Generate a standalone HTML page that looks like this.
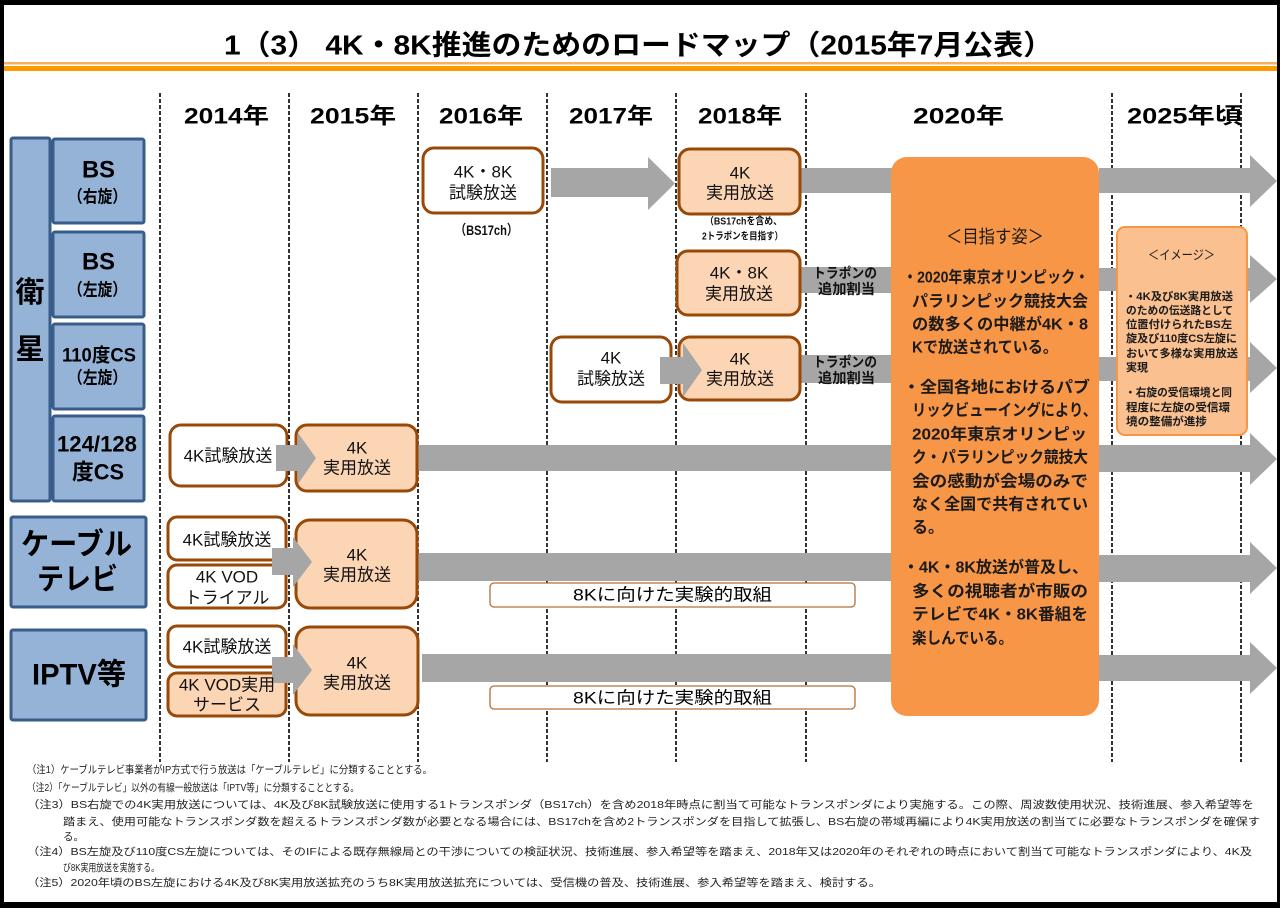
<!DOCTYPE html>
<html><head><meta charset="utf-8"><style>
html,body{margin:0;padding:0;background:#000;}
svg{display:block;}
text{font-family:"Liberation Sans","Noto Sans CJK JP",sans-serif;}
</style></head><body>
<svg width="1280" height="908" viewBox="0 0 1280 908" xmlns="http://www.w3.org/2000/svg">
<rect x="0" y="0" width="1280" height="908" fill="#000"/>
<rect x="4" y="5" width="1273" height="897" fill="#fff"/>

<!-- title -->
<text x="224" y="45" font-size="28" font-weight="bold" dominant-baseline="central" textLength="829" lengthAdjust="spacingAndGlyphs" fill="#000">1（3） 4K・8K推進のためのロードマップ（2015年7月公表）</text>
<rect x="4" y="62" width="1273" height="2.5" fill="#f8b060"/>
<rect x="4" y="66" width="1273" height="5" fill="#fd9a00"/>

<!-- dashed lines -->
<g stroke="#000" stroke-width="1.6" stroke-dasharray="4,2">
<line x1="160" y1="93" x2="160" y2="762"/>
<line x1="289" y1="93" x2="289" y2="762"/>
<line x1="418" y1="93" x2="418" y2="762"/>
<line x1="547" y1="93" x2="547" y2="762"/>
<line x1="676" y1="93" x2="676" y2="762"/>
<line x1="806" y1="93" x2="806" y2="762"/>
<line x1="1112" y1="93" x2="1112" y2="762"/>
<line x1="1241" y1="93" x2="1241" y2="762"/>
</g>

<!-- years -->
<g font-size="22" font-weight="bold" fill="#000">
<text x="184" y="116" dominant-baseline="central" textLength="85" lengthAdjust="spacingAndGlyphs">2014年</text>
<text x="310" y="116" dominant-baseline="central" textLength="86" lengthAdjust="spacingAndGlyphs">2015年</text>
<text x="439" y="116" dominant-baseline="central" textLength="84" lengthAdjust="spacingAndGlyphs">2016年</text>
<text x="569" y="116" dominant-baseline="central" textLength="84" lengthAdjust="spacingAndGlyphs">2017年</text>
<text x="698" y="116" dominant-baseline="central" textLength="84" lengthAdjust="spacingAndGlyphs">2018年</text>
<text x="913" y="116" dominant-baseline="central" textLength="91" lengthAdjust="spacingAndGlyphs">2020年</text>
<text x="1127" y="116" dominant-baseline="central" textLength="115" lengthAdjust="spacingAndGlyphs">2025年頃</text>
</g>

<!-- left labels -->
<g fill="#95b3d7" stroke="#385d8a" stroke-width="3">
<rect x="11" y="138" width="39" height="363" rx="2"/>
<rect x="53" y="139" width="91" height="84" rx="2"/>
<rect x="53" y="232" width="91" height="85" rx="2"/>
<rect x="53" y="324" width="91" height="85" rx="2"/>
<rect x="53" y="416" width="91" height="85" rx="2"/>
<rect x="11" y="517" width="135" height="90" rx="2"/>
<rect x="11" y="630" width="135" height="90" rx="2"/>
</g>
<g font-weight="bold" fill="#000" dominant-baseline="central">
<text x="30" y="293" font-size="29" text-anchor="middle" dominant-baseline="central">衛</text>
<text x="30" y="350" font-size="29" text-anchor="middle" dominant-baseline="central">星</text>
<text x="82" y="170" font-size="24" dominant-baseline="central" textLength="33" lengthAdjust="spacingAndGlyphs">BS</text>
<text x="68" y="197" font-size="17" dominant-baseline="central" textLength="59" lengthAdjust="spacingAndGlyphs">（右旋）</text>
<text x="82" y="262" font-size="24" dominant-baseline="central" textLength="33" lengthAdjust="spacingAndGlyphs">BS</text>
<text x="68" y="290" font-size="17" dominant-baseline="central" textLength="59" lengthAdjust="spacingAndGlyphs">（左旋）</text>
<text x="62" y="356" font-size="19" dominant-baseline="central" textLength="74" lengthAdjust="spacingAndGlyphs">110度CS</text>
<text x="68" y="378" font-size="17" dominant-baseline="central" textLength="59" lengthAdjust="spacingAndGlyphs">（左旋）</text>
<text x="57" y="444" font-size="22" dominant-baseline="central" textLength="80" lengthAdjust="spacingAndGlyphs">124/128</text>
<text x="72" y="472" font-size="22" dominant-baseline="central" textLength="52" lengthAdjust="spacingAndGlyphs">度CS</text>
<text x="21" y="545" font-size="30" dominant-baseline="central" textLength="111" lengthAdjust="spacingAndGlyphs">ケーブル</text>
<text x="37" y="580" font-size="30" dominant-baseline="central" textLength="81" lengthAdjust="spacingAndGlyphs">テレビ</text>
<text x="32" y="675" font-size="30" dominant-baseline="central" textLength="94" lengthAdjust="spacingAndGlyphs">IPTV等</text>
</g>

<!-- long gray arrows (under boxes) -->
<g fill="#a6a6a6">
<polygon points="551,168 648,168 648,157 675,183.5 648,210 648,197 551,197"/>
<rect x="800" y="168" width="95" height="25"/>
<polygon points="1099,168 1250,168 1250,155 1277,181 1250,207 1250,193 1099,193"/>
<rect x="800" y="267" width="95" height="26"/>
<polygon points="1099,268 1250,268 1250,255 1277,279 1250,303 1250,291 1099,291"/>
<rect x="800" y="355" width="95" height="28"/>
<polygon points="1099,357 1250,357 1250,342 1277,368 1250,393 1250,381 1099,381"/>
<rect x="417" y="445" width="478" height="26"/>
<polygon points="1099,445 1250,445 1250,433 1277,459 1250,485 1250,472 1099,472"/>
<rect x="417" y="553" width="478" height="28"/>
<polygon points="1099,555 1250,555 1250,542 1277,568 1250,594 1250,582 1099,582"/>
<rect x="422" y="654" width="473" height="28"/>
<polygon points="1099,655 1250,655 1250,642 1277,668 1250,694 1250,681 1099,681"/>
</g>

<!-- 8K boxes -->
<g fill="#fff" stroke="#b0703a" stroke-width="1.3">
<rect x="490" y="583" width="365" height="24" rx="4"/>
<rect x="490" y="686" width="365" height="23" rx="4"/>
</g>
<g font-size="17" fill="#000">
<text x="573" y="595" dominant-baseline="central" textLength="199" lengthAdjust="spacingAndGlyphs">8Kに向けた実験的取組</text>
<text x="573" y="698" dominant-baseline="central" textLength="199" lengthAdjust="spacingAndGlyphs">8Kに向けた実験的取組</text>
</g>

<!-- white boxes -->
<g fill="#fff" stroke="#984807" stroke-width="3">
<rect x="423" y="148" width="120" height="65" rx="11"/>
<rect x="551" y="337" width="120" height="65" rx="11"/>
<rect x="170" y="425" width="117" height="61" rx="11"/>
<rect x="168" y="517" width="118" height="43" rx="9"/>
<rect x="168" y="565" width="118" height="43" rx="9"/>
<rect x="168" y="626" width="118" height="41" rx="9"/>
</g>
<!-- peach boxes -->
<g fill="#fcd5b5" stroke="#984807" stroke-width="3">
<rect x="679" y="149" width="121" height="65" rx="11"/>
<rect x="677" y="251" width="123" height="64" rx="11"/>
<rect x="679" y="337" width="121" height="63" rx="11"/>
<rect x="296" y="425" width="121" height="66" rx="11"/>
<rect x="296" y="520" width="121" height="88" rx="14"/>
<rect x="168" y="673" width="118" height="43" rx="9"/>
<rect x="296" y="627" width="122" height="88" rx="14"/>
</g>

<!-- short arrows over boxes -->
<g fill="#a6a6a6">
<polygon points="660,357 683,357 683,343 702,370 683,397 683,384 660,384"/>
<polygon points="276,445 298,445 298,433 316,458 298,484 298,471 276,471"/>
<polygon points="272,548 293,548 293,537 312,562 293,587 293,575 272,575"/>
<polygon points="272,657 293,657 293,644 312,670 293,695 293,683 272,683"/>
</g>

<!-- box texts -->
<g font-size="17" fill="#111" text-anchor="middle">
<text x="483" y="172" dominant-baseline="central">4K・8K</text>
<text x="483" y="193" dominant-baseline="central">試験放送</text>
<text x="611" y="358" dominant-baseline="central">4K</text>
<text x="611" y="379" dominant-baseline="central">試験放送</text>
<text x="228" y="456" dominant-baseline="central">4K試験放送</text>
<text x="227" y="540" dominant-baseline="central">4K試験放送</text>
<text x="227" y="577" dominant-baseline="central">4K VOD</text>
<text x="227" y="598" dominant-baseline="central">トライアル</text>
<text x="227" y="647" dominant-baseline="central">4K試験放送</text>
<text x="740" y="173" dominant-baseline="central">4K</text>
<text x="740" y="193" dominant-baseline="central">実用放送</text>
<text x="739" y="273" dominant-baseline="central">4K・8K</text>
<text x="739" y="294" dominant-baseline="central">実用放送</text>
<text x="740" y="359" dominant-baseline="central">4K</text>
<text x="740" y="379" dominant-baseline="central">実用放送</text>
<text x="357" y="448" dominant-baseline="central">4K</text>
<text x="357" y="468" dominant-baseline="central">実用放送</text>
<text x="357" y="555" dominant-baseline="central">4K</text>
<text x="357" y="575" dominant-baseline="central">実用放送</text>
<text x="227" y="685" dominant-baseline="central">4K VOD実用</text>
<text x="227" y="705" dominant-baseline="central">サービス</text>
<text x="357" y="663" dominant-baseline="central">4K</text>
<text x="357" y="683" dominant-baseline="central">実用放送</text>
</g>

<!-- small labels -->
<g font-weight="bold" fill="#111">
<text x="455" y="230" font-size="14" dominant-baseline="central" textLength="63" lengthAdjust="spacingAndGlyphs">（BS17ch）</text>
<text x="705" y="222" font-size="10" dominant-baseline="central" textLength="77" lengthAdjust="spacingAndGlyphs">（BS17chを含め、</text>
<text x="702" y="237" font-size="10" dominant-baseline="central" textLength="81" lengthAdjust="spacingAndGlyphs">2トラポンを目指す）</text>
<text x="813" y="273" font-size="14" dominant-baseline="central" textLength="64" lengthAdjust="spacingAndGlyphs">トラポンの</text>
<text x="818" y="289" font-size="14" dominant-baseline="central" textLength="57" lengthAdjust="spacingAndGlyphs">追加割当</text>
<text x="813" y="362" font-size="14" dominant-baseline="central" textLength="64" lengthAdjust="spacingAndGlyphs">トラポンの</text>
<text x="818" y="378" font-size="14" dominant-baseline="central" textLength="57" lengthAdjust="spacingAndGlyphs">追加割当</text>
</g>

<!-- orange main box -->
<rect x="891" y="157" width="208" height="559" rx="16" fill="#f79646"/>
<g font-weight="bold" fill="#1a1a1a" font-size="16">
<text x="946" y="237" font-size="18" font-weight="normal" dominant-baseline="central" textLength="98" lengthAdjust="spacingAndGlyphs">＜目指す姿＞</text>
<text x="903" y="278" dominant-baseline="central" textLength="186" lengthAdjust="spacingAndGlyphs">・2020年東京オリンピック・</text>
<text x="912" y="302" dominant-baseline="central" textLength="176" lengthAdjust="spacingAndGlyphs">パラリンピック競技大会</text>
<text x="912" y="325" dominant-baseline="central" textLength="176" lengthAdjust="spacingAndGlyphs">の数多くの中継が4K・8</text>
<text x="912" y="348" dominant-baseline="central" textLength="146" lengthAdjust="spacingAndGlyphs">Kで放送されている。</text>
<text x="903" y="388" dominant-baseline="central" textLength="187" lengthAdjust="spacingAndGlyphs">・全国各地におけるパブ</text>
<text x="912" y="411" dominant-baseline="central" textLength="185" lengthAdjust="spacingAndGlyphs">リックビューイングにより、</text>
<text x="912" y="435" dominant-baseline="central" textLength="175" lengthAdjust="spacingAndGlyphs">2020年東京オリンピッ</text>
<text x="912" y="458" dominant-baseline="central" textLength="176" lengthAdjust="spacingAndGlyphs">ク・パラリンピック競技大</text>
<text x="912" y="482" dominant-baseline="central" textLength="176" lengthAdjust="spacingAndGlyphs">会の感動が会場のみで</text>
<text x="912" y="505" dominant-baseline="central" textLength="176" lengthAdjust="spacingAndGlyphs">なく全国で共有されてい</text>
<text x="912" y="528" dominant-baseline="central">る。</text>
<text x="903" y="568" dominant-baseline="central" textLength="185" lengthAdjust="spacingAndGlyphs">・4K・8K放送が普及し、</text>
<text x="912" y="592" dominant-baseline="central" textLength="176" lengthAdjust="spacingAndGlyphs">多くの視聴者が市販の</text>
<text x="912" y="615" dominant-baseline="central" textLength="176" lengthAdjust="spacingAndGlyphs">テレビで4K・8K番組を</text>
<text x="912" y="639" dominant-baseline="central" textLength="101" lengthAdjust="spacingAndGlyphs">楽しんでいる。</text>
</g>

<!-- image box -->
<rect x="1117" y="227" width="130" height="208" rx="8" fill="#fac090" stroke="#f79646" stroke-width="2"/>
<g font-weight="bold" fill="#1a1a1a" font-size="11">
<text x="1148" y="255" font-size="13" font-weight="normal" dominant-baseline="central" textLength="67" lengthAdjust="spacingAndGlyphs">＜イメージ＞</text>
<text x="1125" y="297" dominant-baseline="central" textLength="108" lengthAdjust="spacingAndGlyphs">・4K及び8K実用放送</text>
<text x="1126" y="311" dominant-baseline="central" textLength="107" lengthAdjust="spacingAndGlyphs">のための伝送路として</text>
<text x="1126" y="325" dominant-baseline="central" textLength="106" lengthAdjust="spacingAndGlyphs">位置付けられたBS左</text>
<text x="1126" y="339" dominant-baseline="central" textLength="111" lengthAdjust="spacingAndGlyphs">旋及び110度CS左旋に</text>
<text x="1126" y="354" dominant-baseline="central" textLength="112" lengthAdjust="spacingAndGlyphs">おいて多様な実用放送</text>
<text x="1126" y="368" dominant-baseline="central" textLength="22" lengthAdjust="spacingAndGlyphs">実現</text>
<text x="1125" y="393" dominant-baseline="central" textLength="107" lengthAdjust="spacingAndGlyphs">・右旋の受信環境と同</text>
<text x="1126" y="408" dominant-baseline="central" textLength="104" lengthAdjust="spacingAndGlyphs">程度に左旋の受信環</text>
<text x="1126" y="422" dominant-baseline="central" textLength="81" lengthAdjust="spacingAndGlyphs">境の整備が進捗</text>
</g>

<!-- notes -->
<g font-size="10.5" fill="#222">
<text x="27" y="770" dominant-baseline="central" textLength="405" lengthAdjust="spacingAndGlyphs">（注1）ケーブルテレビ事業者がIP方式で行う放送は「ケーブルテレビ」に分類することとする。</text>
<text x="27" y="788" dominant-baseline="central" textLength="332" lengthAdjust="spacingAndGlyphs">（注2）「ケーブルテレビ」以外の有線一般放送は「IPTV等」に分類することとする。</text>
<text x="27" y="805" dominant-baseline="central" textLength="1227" lengthAdjust="spacingAndGlyphs">（注3）BS右旋での4K実用放送については、4K及び8K試験放送に使用する1トランスポンダ（BS17ch）を含め2018年時点に割当て可能なトランスポンダにより実施する。この際、周波数使用状況、技術進展、参入希望等を</text>
<text x="63" y="822" dominant-baseline="central" textLength="1197" lengthAdjust="spacingAndGlyphs">踏まえ、使用可能なトランスポンダ数を超えるトランスポンダ数が必要となる場合には、BS17chを含め2トランスポンダを目指して拡張し、BS右旋の帯域再編により4K実用放送の割当てに必要なトランスポンダを確保す</text>
<text x="63" y="837" dominant-baseline="central">る。</text>
<text x="27" y="852" dominant-baseline="central" textLength="1225" lengthAdjust="spacingAndGlyphs">（注4）BS左旋及び110度CS左旋については、そのIFによる既存無線局との干渉についての検証状況、技術進展、参入希望等を踏まえ、2018年又は2020年のそれぞれの時点において割当て可能なトランスポンダにより、4K及</text>
<text x="63" y="868" dominant-baseline="central" textLength="96" lengthAdjust="spacingAndGlyphs">び8K実用放送を実施する。</text>
<text x="27" y="883" dominant-baseline="central" textLength="854" lengthAdjust="spacingAndGlyphs">（注5）2020年頃のBS左旋における4K及び8K実用放送拡充のうち8K実用放送拡充については、受信機の普及、技術進展、参入希望等を踏まえ、検討する。</text>
</g>
</svg>
</body></html>
